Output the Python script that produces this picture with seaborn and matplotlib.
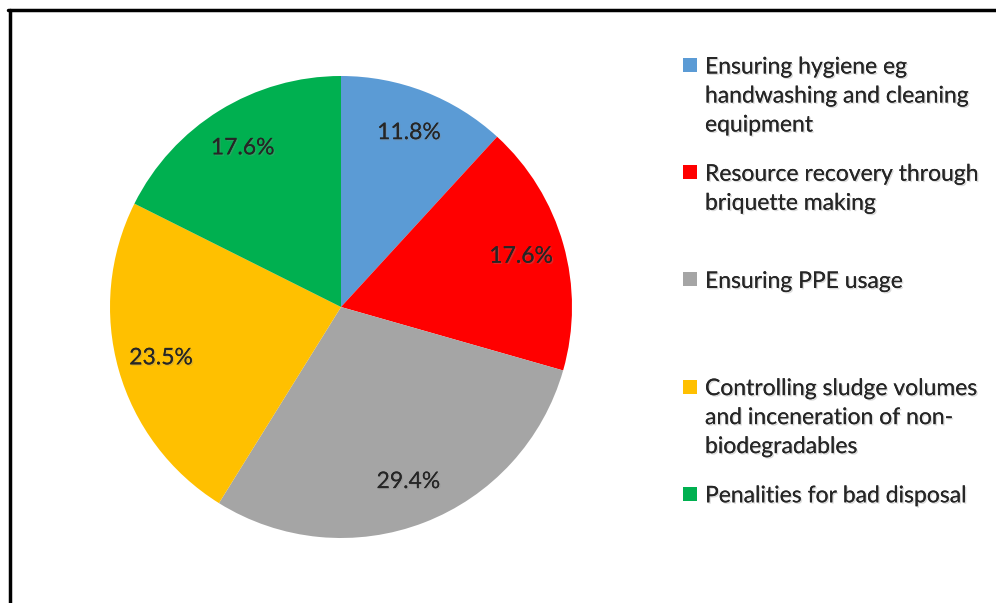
import matplotlib
matplotlib.use("Agg")
import matplotlib.pyplot as plt
import matplotlib.patheffects as pe
from matplotlib.lines import Line2D
from matplotlib.patches import Rectangle
import seaborn as sns

# Share of respondents per safety measure (%)
categories = [
    "Ensuring hygiene eg\nhandwashing and cleaning\nequipment",
    "Resource recovery through\nbriquette making",
    "Ensuring PPE usage",
    "Controlling sludge volumes\nand inceneration of non-\nbiodegradables",
    "Penalities for bad disposal",
]
shares = [11.8, 17.6, 29.4, 23.5, 17.6]
colors = ["#5B9BD5", "#FF0000", "#A5A5A5", "#FFC000", "#00B050"]

sns.set_theme(style="white")
plt.rcParams["font.family"] = ["Lato", "DejaVu Sans"]

W, H = 996, 603
fig = plt.figure(figsize=(W / 100, H / 100), dpi=100)
fig.patch.set_facecolor("white")

shadow = [pe.withSimplePatchShadow(offset=(1, -1), shadow_rgbFace="#888888", alpha=0.3), pe.Normal()]
txt_color = "#262626"
fs = 16.5

# Pie: centre (341, 307) px, radius 231 px
cx, cy, r = 341, 307, 231
ax = fig.add_axes([(cx - r) / W, (H - cy - r) / H, 2 * r / W, 2 * r / H])
wedges, texts, autotexts = ax.pie(
    shares,
    colors=sns.color_palette(colors),
    startangle=90,
    counterclock=False,
    autopct=lambda p: f"{p:.1f}%",
    pctdistance=0.81,
    wedgeprops=dict(linewidth=0),
    textprops=dict(fontsize=fs, color=txt_color),
)
for t in autotexts:
    t.set_path_effects(shadow)
ax.set_xlim(-1, 1)
ax.set_ylim(-1, 1)
ax.set_axis_off()

# Legend with evenly spaced entries
entry_y0, entry_step, line_step = 65, 107.2, 29
sq_x, sq_size, txt_x = 683, 14, 705
for i, (lab, col) in enumerate(zip(categories, colors)):
    y0 = entry_y0 + i * entry_step
    fig.patches.append(Rectangle((sq_x / W, (H - y0 - sq_size / 2) / H), sq_size / W, sq_size / H,
                                 transform=fig.transFigure, facecolor=col, edgecolor="none"))
    for j, line in enumerate(lab.split("\n")):
        fig.text(txt_x / W, (H - y0 - j * line_step) / H, line, fontsize=fs, color=txt_color,
                 va="center_baseline", ha="left", path_effects=shadow)

# Chart frame
fig.add_artist(Line2D([9.5 / W, 9.5 / W], [0, 1 - 9.5 / H], transform=fig.transFigure, color="black", lw=2.5))
fig.add_artist(Line2D([8.3 / W, 1], [1 - 9.5 / H, 1 - 9.5 / H], transform=fig.transFigure, color="black", lw=2.5))

fig.savefig("out.png", dpi=100)
